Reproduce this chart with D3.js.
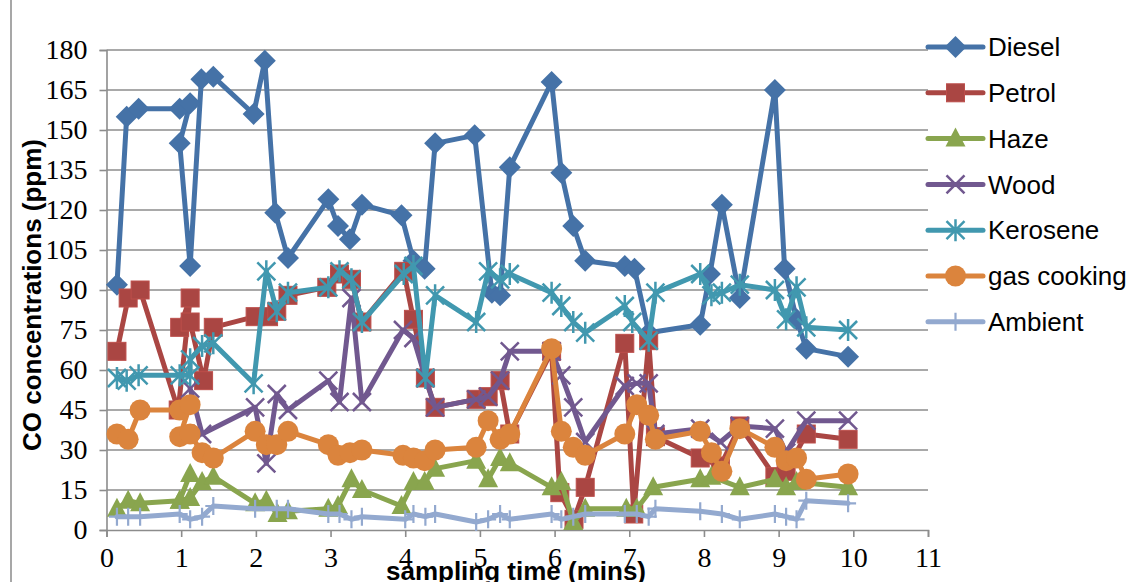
<!DOCTYPE html>
<html>
<head>
<meta charset="utf-8">
<script src="https://cdn.jsdelivr.net/npm/d3@7"></script>
<style>
  html, body { margin: 0; padding: 0; background: #fff; }
  svg { display: block; }
</style>
</head>
<body>
<div id="chart"></div>
<script>
// CO concentration measurements (ppm) against sampling time (minutes)
const seriesNames = ["Diesel", "Petrol", "Haze", "Wood", "Kerosene", "gas cooking", "Ambient"];

const dieselTime = [0.14,0.27,0.43,0.98,1.12,0.98,1.12,1.27,1.43,1.97,2.12,2.26,2.43,2.97,3.10,3.26,3.42,3.95,4.11,4.26,4.40,4.93,5.16,5.27,5.40,5.96,6.09,6.25,6.41,6.94,7.07,7.26,7.95,8.08,8.24,8.48,8.95,9.08,9.24,9.37,9.93];
const dieselCO   = [92,155,158,158,160,145,99,169,170,156,176,119,102,124,114,109,122,118,101,98,145,148,89,88,136,168,134,114,101,99,98,74,77,96,122,87,165,98,79,68,65];

const petrolTime = [0.14,0.29,0.45,0.96,1.12,0.98,1.12,1.30,1.43,1.99,2.17,2.28,2.43,2.95,3.12,3.28,3.42,3.98,4.11,4.27,4.40,4.95,5.11,5.27,5.40,5.96,6.07,6.26,6.41,6.94,7.06,7.26,7.35,7.95,8.22,8.48,8.95,9.10,9.37,9.93];
const petrolCO   = [67,87,90,45,87,76,78,56,76,80,80,82,88,91,96,94,78,97,79,57,46,49,50,56,36,67,14,4,16,70,6,71,35,27,24,39,20,22,36,34];

const hazeTime = [0.14,0.29,0.45,0.98,1.12,0.98,1.12,1.28,1.43,1.99,2.14,2.29,2.43,2.97,3.10,3.28,3.42,3.95,4.11,4.26,4.40,4.95,5.11,5.27,5.40,5.96,6.09,6.25,6.41,6.96,7.10,7.32,7.95,8.10,8.48,8.95,9.10,9.24,9.93];
const hazeCO   = [8,11,10,11,21,11,12,18,20,10,11,6,7,8,9,19,15,9,18,18,23,26,19,27,25,16,18,3,8,8,8,16,19,20,16,19,16,18,16];

const woodTime = [1.12,1.28,1.99,2.14,2.28,2.43,2.97,3.12,3.28,3.42,3.97,4.11,4.27,4.40,4.95,5.11,5.27,5.40,5.96,6.09,6.25,6.41,6.94,7.10,7.26,7.35,7.95,8.22,8.48,8.95,9.10,9.37,9.93];
const woodCO   = [53,36,46,25,51,45,56,48,87,48,75,72,57,46,49,50,56,67,67,58,46,33,54,55,55,36,38,33,39,38,29,41,41];

const keroseneTime = [0.14,0.27,0.43,0.98,1.12,1.12,1.28,1.43,1.97,2.14,2.28,2.43,2.97,3.12,3.28,3.42,3.98,4.11,4.27,4.40,4.95,5.11,5.27,5.40,5.96,6.09,6.25,6.41,6.94,7.04,7.26,7.35,7.95,8.10,8.24,8.48,8.95,9.10,9.24,9.37,9.93];
const keroseneCO   = [57,56,58,58,58,64,69,70,55,97,82,89,91,97,94,78,96,99,57,88,78,97,94,96,89,84,78,74,84,78,71,89,96,88,89,92,90,79,91,76,75];

const gasTime = [0.14,0.29,0.45,0.98,1.12,0.98,1.12,1.28,1.43,1.99,2.14,2.28,2.43,2.97,3.10,3.26,3.42,3.97,4.11,4.26,4.40,4.95,5.11,5.27,5.40,5.96,6.09,6.25,6.41,6.94,7.10,7.26,7.35,7.95,8.10,8.24,8.48,8.95,9.10,9.24,9.37,9.93];
const gasCO   = [36,34,45,45,47,35,36,29,27,37,32,32,37,32,28,29,30,28,27,26,30,31,41,34,36,68,37,31,28,36,47,43,34,37,29,22,38,31,26,27,19,21];

const ambientTime = [0.14,0.29,0.45,0.98,1.12,1.28,1.43,1.99,2.28,2.43,2.97,3.12,3.28,3.42,4.00,4.11,4.27,4.40,4.95,5.11,5.27,5.40,5.96,6.09,6.25,6.41,6.94,7.10,7.26,7.35,7.95,8.24,8.48,8.95,9.10,9.24,9.37,9.93];
const ambientCO   = [5,5,5,6,4,5,9,8,8,8,6,6,4,5,4,6,5,6,3,4,6,4,6,4,5,6,6,6,5,8,7,6,4,6,5,4,11,10];

const xTicks = [0,1,2,3,4,5,6,7,8,9,10,11];
const yTicks = [0,15,30,45,60,75,90,105,120,135,150,165,180];

const series = [
  { name: seriesNames[0], t: dieselTime,   v: dieselCO,   color: "#4572A7", marker: "diamond" },
  { name: seriesNames[1], t: petrolTime,   v: petrolCO,   color: "#AA4643", marker: "square" },
  { name: seriesNames[2], t: hazeTime,     v: hazeCO,     color: "#89A54E", marker: "triangle" },
  { name: seriesNames[3], t: woodTime,     v: woodCO,     color: "#71588F", marker: "x" },
  { name: seriesNames[4], t: keroseneTime, v: keroseneCO, color: "#4198AF", marker: "star" },
  { name: seriesNames[5], t: gasTime,      v: gasCO,      color: "#DB843D", marker: "circle" },
  { name: seriesNames[6], t: ambientTime,  v: ambientCO,  color: "#93A9CF", marker: "plus" }
];

const W = 1139, H = 582;
const plot = { left: 106.5, right: 928, top: 50, bottom: 530 };

const svg = d3.select("#chart").append("svg")
  .attr("width", W).attr("height", H)
  .style("font-family", "'Liberation Sans', Arial, sans-serif");

// outer chart frame (left edge visible)
svg.append("line")
  .attr("x1", 11).attr("x2", 11).attr("y1", 0).attr("y2", H)
  .attr("stroke", "#8a8a8a").attr("stroke-width", 1.5);

const x = d3.scaleLinear().domain([0, 11]).range([plot.left, plot.right]);
const y = d3.scaleLinear().domain([0, 180]).range([plot.bottom, plot.top]);

// horizontal gridlines
svg.append("g")
  .selectAll("line")
  .data(yTicks.filter(d => d > 0))
  .join("line")
  .attr("x1", plot.left).attr("x2", plot.right)
  .attr("y1", d => y(d)).attr("y2", d => y(d))
  .attr("stroke", "#8c8c8c").attr("stroke-width", 1.6);

// y axis
const yAxis = svg.append("g")
  .attr("transform", `translate(${plot.left},0)`)
  .call(d3.axisLeft(y).tickValues(yTicks).tickSize(7).tickPadding(12));
yAxis.select(".domain").attr("stroke", "#8c8c8c").attr("stroke-width", 1.6);
yAxis.selectAll(".tick line").attr("stroke", "#8c8c8c").attr("stroke-width", 1.6);
yAxis.selectAll(".tick text")
  .attr("fill", "#000")
  .style("font-family", "'Liberation Serif', 'Times New Roman', serif")
  .style("font-size", "28px");

// x axis
const xAxis = svg.append("g")
  .attr("transform", `translate(0,${plot.bottom})`)
  .call(d3.axisBottom(x).tickValues(xTicks).tickSize(7).tickPadding(10));
xAxis.select(".domain").attr("stroke", "#8c8c8c").attr("stroke-width", 1.6);
xAxis.selectAll(".tick line").attr("stroke", "#8c8c8c").attr("stroke-width", 1.6);
xAxis.selectAll(".tick text")
  .attr("fill", "#000")
  .style("font-family", "'Liberation Serif', 'Times New Roman', serif")
  .style("font-size", "28px");

// axis titles
svg.append("text")
  .attr("transform", "translate(41,295) rotate(-90)")
  .attr("text-anchor", "middle")
  .style("font-size", "26px").style("font-weight", "bold")
  .text("CO concentrations (ppm)");

svg.append("text")
  .attr("x", 516).attr("y", 580)
  .attr("text-anchor", "middle")
  .style("font-size", "26px").style("font-weight", "bold")
  .text("sampling time (mins)");

// marker drawing
function drawMarker(g, type, color) {
  switch (type) {
    case "diamond":
      g.append("path").attr("d", "M0,-11L11,0L0,11L-11,0Z").attr("fill", color);
      break;
    case "square":
      g.append("rect").attr("x", -9).attr("y", -9).attr("width", 18).attr("height", 18)
        .attr("fill", color).attr("stroke", d3.color(color).brighter(0.3)).attr("stroke-width", 1);
      break;
    case "triangle":
      g.append("path").attr("d", "M0,-11L10,8L-10,8Z").attr("fill", color);
      break;
    case "x":
      g.append("path").attr("d", "M-9,-9L9,9M-9,9L9,-9")
        .attr("stroke", color).attr("stroke-width", 2.5).attr("fill", "none");
      break;
    case "star":
      g.append("path").attr("d", "M-9,-9L9,9M-9,9L9,-9M0,-11L0,11")
        .attr("stroke", color).attr("stroke-width", 2.5).attr("fill", "none");
      break;
    case "circle":
      g.append("circle").attr("r", 10.5).attr("fill", color);
      break;
    case "plus":
      g.append("path").attr("d", "M0,-9L0,9M-8,0L8,0")
        .attr("stroke", color).attr("stroke-width", 2.2).attr("fill", "none");
      break;
  }
}

const line = d3.line().x(d => x(d[0])).y(d => y(d[1]));

// series lines and markers, one series at a time
series.forEach(s => {
  const pts = s.t.map((t, i) => [t, s.v[i]]);
  const g = svg.append("g").attr("class", "series");
  g.append("path")
    .attr("d", line(pts))
    .attr("fill", "none")
    .attr("stroke", s.color)
    .attr("stroke-width", 5)
    .attr("stroke-linejoin", "round")
    .attr("stroke-linecap", "round");
  g.selectAll("g.mk")
    .data(pts)
    .join("g")
    .attr("class", "mk")
    .attr("transform", d => `translate(${x(d[0])},${y(d[1])})`)
    .each(function () { drawMarker(d3.select(this), s.marker, s.color); });
});

// legend
const legend = svg.append("g");
series.forEach((s, i) => {
  const cy = 47 + i * 45.8;
  const lg = legend.append("g").attr("transform", `translate(0,${cy})`);
  lg.append("line")
    .attr("x1", 928).attr("x2", 983).attr("y1", 0).attr("y2", 0)
    .attr("stroke", s.color).attr("stroke-width", 5).attr("stroke-linecap", "round");
  const mk = lg.append("g").attr("transform", "translate(955.5,0)");
  drawMarker(mk, s.marker, s.color);
  lg.append("text")
    .attr("x", 988).attr("y", 0).attr("dy", "0.35em")
    .style("font-size", "26px")
    .attr("fill", "#000")
    .text(s.name);
});
</script>
</body>
</html>
